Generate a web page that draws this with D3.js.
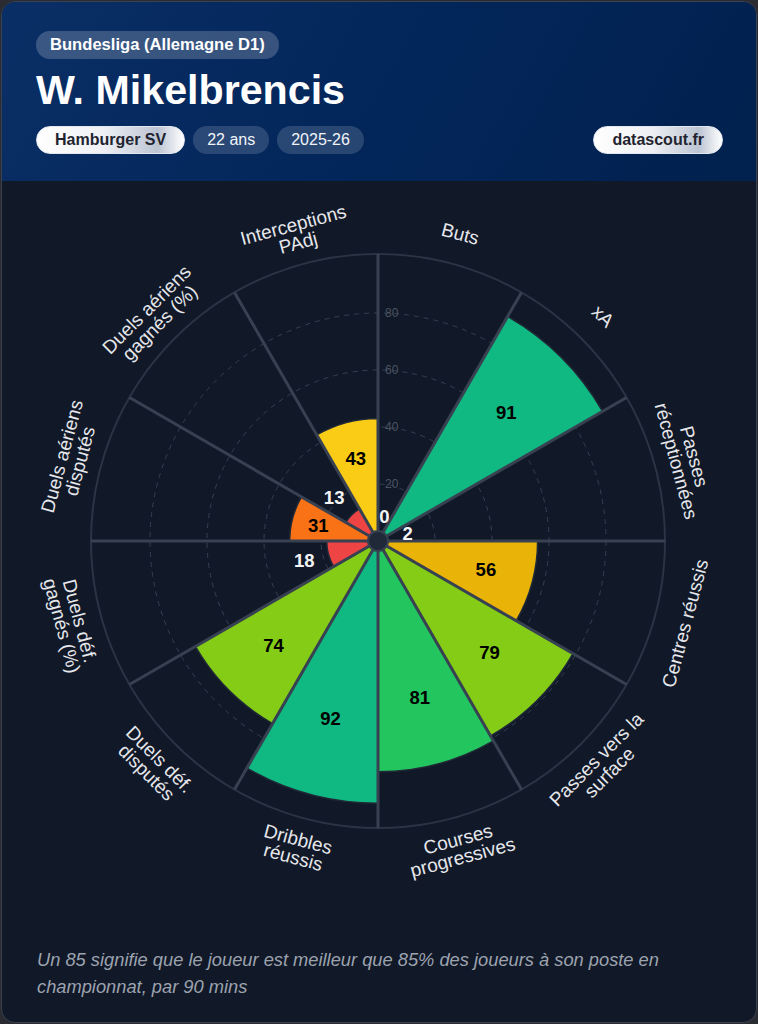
<!DOCTYPE html>
<html>
<head>
<meta charset="utf-8">
<script src="https://cdn.jsdelivr.net/npm/d3@7"></script>
<style>
  html, body { margin: 0; padding: 0; }
  body {
    width: 758px; height: 1024px; background: #2a2c31; position: relative; overflow: hidden;
    font-family: "Liberation Sans", Arial, Helvetica, sans-serif;
  }
  .card {
    position: absolute; left: 1px; top: 1px; width: 754px; height: 1020px;
    border: 1px solid #3a4150; border-radius: 14px; background: #111827; overflow: hidden;
  }
  .header {
    position: absolute; left: 0; top: 0; width: 100%; height: 179px;
    background: linear-gradient(120deg, #0a2f66 0%, #03265a 50%, #01214e 100%);
  }
  .pill {
    position: absolute; height: 28px; line-height: 28px; border-radius: 14px;
    white-space: nowrap; font-size: 16px; box-sizing: border-box;
  }
  .league { left: 34px; top: 29px; background: rgba(255,255,255,0.2); color: #fff;
    font-weight: bold; font-size: 16.6px; padding: 0 14px; }
  .name { position: absolute; left: 34px; top: 67px; font-size: 41.2px; line-height: 42px;
    font-weight: bold; color: #fff; white-space: nowrap; }
  .row { position: absolute; left: 34px; top: 124px; display: flex; gap: 8px; }
  .row .pill { position: static; }
  .light {
    background: linear-gradient(90deg, #ffffff 0%, #eef0f4 45%, #bcc4d3 82%, #ffffff 100%);
    color: #1f2430; font-weight: bold; padding: 0 18px; border: 1px solid #e2e6ee; line-height: 26px;
  }
  .dark { background: rgba(255,255,255,0.15); color: #f1f5f9; padding: 0 14px; }
  .site { left: auto; right: 33px; top: 124px; }
  .footer {
    position: absolute; left: 35px; top: 944px; width: 690px;
    font-size: 18.3px; line-height: 27px; font-style: italic; color: #9ca3af;
  }
  svg { position: absolute; left: 0; top: 0; }
</style>
</head>
<body>
<div class="card">
  <div class="header">
    <div class="pill league">Bundesliga (Allemagne D1)</div>
    <div class="name">W. Mikelbrencis</div>
    <div class="row">
      <div class="pill light">Hamburger SV</div>
      <div class="pill dark">22 ans</div>
      <div class="pill dark">2025-26</div>
    </div>
    <div class="pill light site">datascout.fr</div>
  </div>
  <div class="footer">Un 85 signifie que le joueur est meilleur que 85% des joueurs à son poste en championnat, par 90 mins</div>
</div>
<svg id="chart" width="758" height="1024"></svg>
<script>
// categories, clockwise from the top ("\n" = line break in the label)
var categories = [
    "Buts", "xA", "Passes\nréceptionnées", "Centres réussis",
    "Passes vers la\nsurface", "Courses\nprogressives", "Dribbles\nréussis",
    "Duels déf.\ndisputés", "Duels déf.\ngagnés (%)", "Duels aériens\ndisputés",
    "Duels aériens\ngagnés (%)", "Interceptions\nPAdj"
];
// percentile values
var values = [0, 91, 2, 56, 79, 81, 92, 74, 18, 31, 13, 43];
// radial grid ticks
var gridTicks = [20, 40, 60, 80];
// colour bands by percentile
var colorBreaks = [20, 35, 50, 60, 80, 90];
var colorRange = ["#ef4444", "#f97316", "#facc15", "#eab308", "#84cc16", "#22c55e", "#10b981"];

var cx = 378, cy = 541, outerR = 287;
var svg = d3.select("#chart");
var g = svg.append("g").attr("transform", "translate(" + cx + "," + cy + ")");

var rscale = d3.scaleLinear().domain([0, 100]).range([0, 285]);
var color = d3.scaleThreshold().domain(colorBreaks).range(colorRange);
var step = 2 * Math.PI / categories.length;

var data = categories.map(function(c, i) {
    return { label: c, value: values[i], i: i };
});

// dashed grid circles
g.selectAll(".grid").data(gridTicks).enter().append("circle")
    .attr("class", "grid").attr("r", function(d) { return rscale(d); })
    .attr("fill", "none").attr("stroke", "#334155").attr("stroke-width", 1)
    .attr("stroke-dasharray", "5,5");

// outer ring
g.append("circle").attr("r", outerR).attr("fill", "none")
    .attr("stroke", "#2a3444").attr("stroke-width", 2);

// bars
var arc = d3.arc()
    .innerRadius(0)
    .outerRadius(function(d) { return rscale(d.value); })
    .startAngle(function(d) { return d.i * step; })
    .endAngle(function(d) { return (d.i + 1) * step; });

g.selectAll(".bar").data(data).enter().append("path")
    .attr("class", "bar").attr("d", arc)
    .attr("fill", function(d) { return color(d.value); })
    .attr("stroke", "#1f2937").attr("stroke-width", 1.5);

// spokes between the segments
g.selectAll(".spoke").data(d3.range(categories.length)).enter().append("line")
    .attr("class", "spoke")
    .attr("x1", 0).attr("y1", 0)
    .attr("x2", function(i) { return outerR * Math.sin(i * step); })
    .attr("y2", function(i) { return -outerR * Math.cos(i * step); })
    .attr("stroke", "#374151").attr("stroke-width", 3);

// tick labels on the vertical axis
g.selectAll(".tick").data(gridTicks).enter().append("text")
    .attr("class", "tick")
    .attr("x", 7).attr("y", function(d) { return -rscale(d); })
    .attr("dominant-baseline", "central")
    .attr("fill", "#4b5563").style("font-size", "12px")
    .text(function(d) { return d; });

// centre hub
g.append("circle").attr("r", 10).attr("fill", "#1f2937")
    .attr("stroke", "#374151").attr("stroke-width", 2);

// value labels: inside the bar when big enough, just outside otherwise
g.selectAll(".val").data(data).enter().append("text")
    .attr("class", "val")
    .each(function(d) {
        var a = (d.i + 0.5) * step;
        var br = rscale(d.value);
        var inside = d.value >= 20;
        var lr = inside ? br * 0.7 : br + 25;
        d3.select(this)
            .attr("x", lr * Math.sin(a)).attr("y", -lr * Math.cos(a))
            .attr("fill", inside ? "#000000" : "#f3f4f6");
    })
    .attr("text-anchor", "middle").attr("dominant-baseline", "central")
    .style("font-size", "18.5px").style("font-weight", "bold")
    .text(function(d) { return d.value; });

// category labels, rotated along the ring
var labelR = 318, lineH = 18.5;
g.selectAll(".cat").data(data).enter().append("g")
    .attr("class", "cat")
    .attr("transform", function(d) {
        var deg = (d.i + 0.5) * 360 / categories.length;
        var a = deg * Math.PI / 180;
        var rot = (deg > 90 && deg < 270) ? deg - 180 : (deg > 270 ? deg - 360 : deg);
        return "translate(" + (labelR * Math.sin(a)) + "," + (-labelR * Math.cos(a)) + ") rotate(" + rot + ")";
    })
    .each(function(d) {
        var lines = d.label.split("\n");
        var t = d3.select(this).append("text")
            .attr("text-anchor", "middle").attr("fill", "#e5e7eb")
            .style("font-size", "19px");
        lines.forEach(function(line, k) {
            t.append("tspan").attr("x", 0)
                .attr("y", (k - (lines.length - 1) / 2) * lineH)
                .attr("dominant-baseline", "central")
                .text(line);
        });
    });
</script>
</body>
</html>
